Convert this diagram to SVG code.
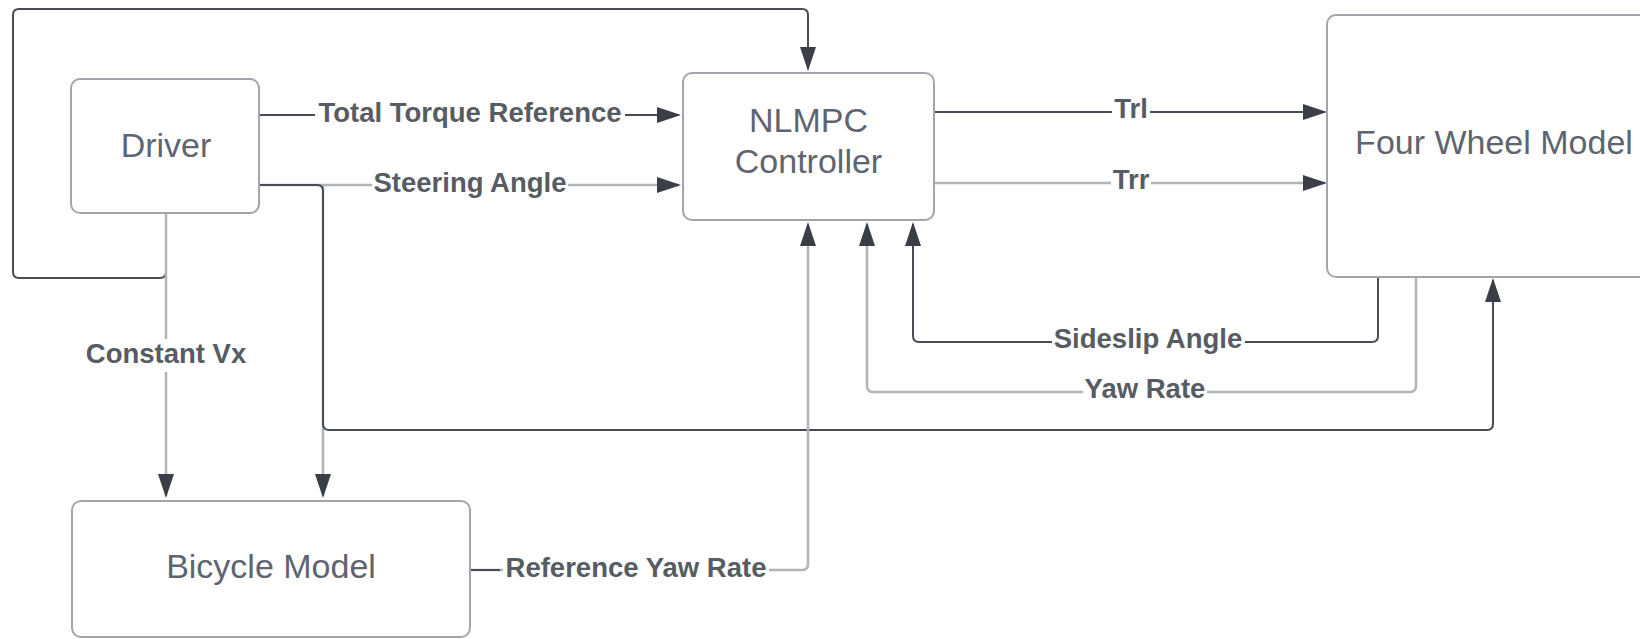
<svg xmlns="http://www.w3.org/2000/svg" width="1640" height="639" viewBox="0 0 1640 639">
  <style>
    .box { fill: #ffffff; stroke: #a2a6ac; stroke-width: 2; }
    .node-text { font-family: "Liberation Sans", Arial, sans-serif; font-size: 34px; fill: #5f6570; text-anchor: middle; }
    .dark { fill: none; stroke: #474d56; stroke-width: 2; }
    .light { fill: none; stroke: #b0b4b9; stroke-width: 2.5; }
    .label-bg { fill: #ffffff; }
    .label { font-family: "Liberation Sans", Arial, sans-serif; font-size: 27.5px; font-weight: bold; fill: #575c63; text-anchor: middle; }
  </style>
  <defs>
    <marker id="arrow" viewBox="0 0 24 16" refX="22" refY="8" markerWidth="24" markerHeight="16" markerUnits="userSpaceOnUse" orient="auto">
      <path d="M0,0 L24,8 L0,16 Z" fill="#3a3f47"/>
    </marker>
  </defs>
  <rect width="1640" height="639" fill="#ffffff"/>

  <!-- signal lines between blocks -->
  <g id="connectors">
    <!-- driver feedback loop over the top into the controller -->
    <path class="dark" d="M166,213 V272 q0,6 -6,6 H19 q-6,0 -6,-6 V15 q0,-6 6,-6 H802 q6,0 6,6 V69" marker-end="url(#arrow)"/>
    <!-- constant longitudinal speed to the bicycle model -->
    <path class="light" d="M166,213 V496" marker-end="url(#arrow)"/>
    <!-- total torque reference -->
    <path class="dark" d="M259,115 H679" marker-end="url(#arrow)"/>
    <!-- steering angle to the controller -->
    <path class="light" d="M259,185 H679" marker-end="url(#arrow)"/>
    <!-- steering angle to the bicycle model -->
    <path class="light" d="M323,185 V496" marker-end="url(#arrow)"/>
    <!-- steering angle to the four wheel model -->
    <path class="dark" d="M259,185 H317 q6,0 6,6 V424 q0,6 6,6 H1487 q6,0 6,-6 V280" marker-end="url(#arrow)"/>
    <!-- rear wheel torques -->
    <path class="dark" d="M934,112 H1325" marker-end="url(#arrow)"/>
    <path class="light" d="M934,183 H1325" marker-end="url(#arrow)"/>
    <!-- vehicle states fed back to the controller -->
    <path class="dark" d="M1378,277 V336 q0,6 -6,6 H919 q-6,0 -6,-6 V224" marker-end="url(#arrow)"/>
    <path class="light" d="M1416,277 V386 q0,6 -6,6 H873 q-6,0 -6,-6 V224" marker-end="url(#arrow)"/>
    <!-- reference yaw rate from the bicycle model -->
    <path class="light" d="M470,570 H802 q6,0 6,-6 V224" marker-end="url(#arrow)"/>
    <path class="dark" d="M470,570 H500"/>

    <!-- label backgrounds break the lines behind the text -->
    <rect class="label-bg" x="315" y="100" width="310" height="30"/>
    <rect class="label-bg" x="372" y="170" width="196" height="30"/>
    <rect class="label-bg" x="84" y="339" width="164" height="33"/>
    <rect class="label-bg" x="1112" y="96" width="38" height="28"/>
    <rect class="label-bg" x="1111" y="167" width="40" height="28"/>
    <rect class="label-bg" x="1052" y="326" width="193" height="30"/>
    <rect class="label-bg" x="1083" y="376" width="124" height="30"/>
    <rect class="label-bg" x="503" y="555" width="266" height="30"/>

    <text class="label" x="470" y="122">Total Torque Reference</text>
    <text class="label" x="470" y="192">Steering Angle</text>
    <text class="label" x="166" y="363">Constant Vx</text>
    <text class="label" x="1131" y="118">Trl</text>
    <text class="label" x="1131" y="189">Trr</text>
    <text class="label" x="1148" y="348">Sideslip Angle</text>
    <text class="label" x="1145" y="398">Yaw Rate</text>
    <text class="label" x="636" y="577">Reference Yaw Rate</text>
  </g>

  <g id="driver">
    <rect class="box" x="71" y="79" width="188" height="134" rx="9"/>
    <text class="node-text" x="166" y="157">Driver</text>
  </g>

  <g id="nlmpc-controller">
    <rect class="box" x="683" y="73" width="251" height="147" rx="9"/>
    <text class="node-text" x="808.5" y="132">NLMPC</text>
    <text class="node-text" x="808.5" y="173">Controller</text>
  </g>

  <g id="four-wheel-model">
    <rect class="box" x="1327" y="15" width="340" height="262" rx="9"/>
    <text class="node-text" x="1494" y="154">Four Wheel Model</text>
  </g>

  <g id="bicycle-model">
    <rect class="box" x="72" y="501" width="398" height="136" rx="9"/>
    <text class="node-text" x="271" y="578">Bicycle Model</text>
  </g>
</svg>
